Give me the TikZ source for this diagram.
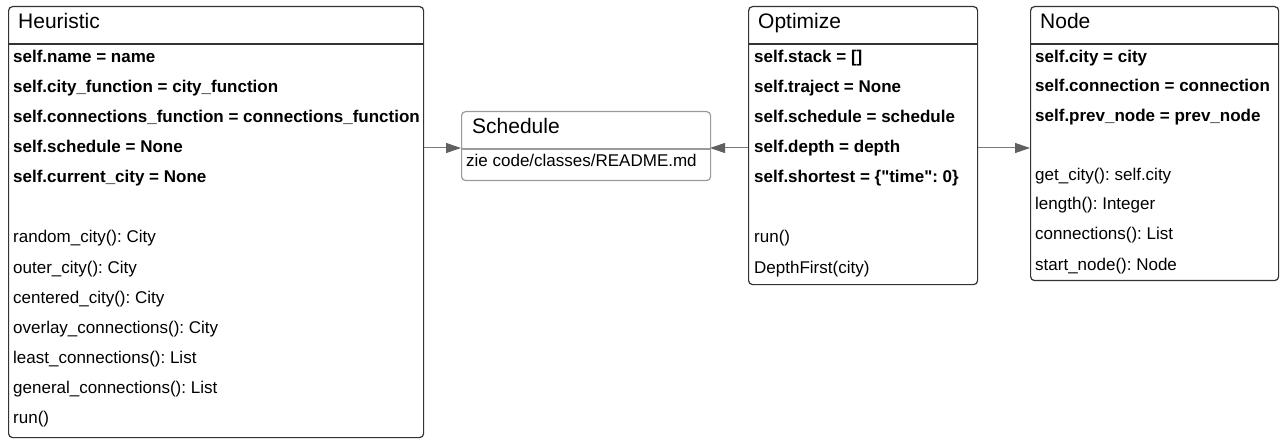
\documentclass[tikz,border=0pt]{standalone}
\usepackage{fontspec}
\setmainfont{Liberation Sans}[Ligatures=TeXOff]
\usetikzlibrary{arrows.meta}
\frenchspacing
\definecolor{boxgray}{HTML}{333333}
\definecolor{lightgray}{HTML}{9A9A9A}
\definecolor{linegray}{HTML}{7A7A7A}
\tikzset{
  classbox/.style={draw=boxgray, line width=1.2pt, rounded corners=4pt, inner sep=0pt, anchor=north west},
  headtext/.style={inner sep=0pt, anchor=base west, font=\fontsize{21}{25}\selectfont},
  attrtext/.style={inner sep=0pt, anchor=base west, font=\fontsize{17}{20}\selectfont\bfseries},
  methtext/.style={inner sep=0pt, anchor=base west, font=\fontsize{17}{20}\selectfont},
  conn/.style={draw=linegray, line width=1pt, -{Triangle[length=15pt,width=10pt,color=gray!75!black]}}
}
\begin{document}
\begin{tikzpicture}[x=1pt,y=-1pt]
\useasboundingbox (0,0) rectangle (1287,446);

% Heuristic
\node[classbox, minimum width=415pt, minimum height=431pt] (heur) at (8,6) {};
\draw[boxgray, line width=1.2pt] (8,44) -- (423,44);
\node[headtext] (heurname) at (18,29) {Heuristic};
\node[attrtext] (h1) at (13,63)  {self.name = name};
\node[attrtext] (h2) at (13,93)  {self.city\_function = city\_function};
\node[attrtext] (h3) at (13,123) {self.connections\_function = connections\_function};
\node[attrtext] (h4) at (13,153) {self.schedule = None};
\node[attrtext] (h5) at (13,183) {self.current\_city = None};
\node[methtext] (h6) at (13,243) {random\_city(): City};
\node[methtext] (h7) at (13,273) {outer\_city(): City};
\node[methtext] (h8) at (13,303) {centered\_city(): City};
\node[methtext] (h9) at (13,333) {overlay\_connections(): City};
\node[methtext] (h10) at (13,363) {least\_connections(): List};
\node[methtext] (h11) at (13,393) {general\_connections(): List};
\node[methtext] (h12) at (13,423) {run()};

% Schedule
\node[classbox, draw=lightgray, minimum width=249pt, minimum height=69pt] (sched) at (461,111) {};
\coordinate (schedin) at (461,148);
\coordinate (schedout) at (710,148);
\draw[lightgray, line width=1.2pt] (461,149) -- (710,149);
\node[headtext] (schedname) at (472,134) {Schedule};
\node[methtext] (s1) at (466,167) {zie code/classes/README.md};

% Optimize
\node[classbox, minimum width=229pt, minimum height=278pt] (opt) at (748,6) {};
\draw[boxgray, line width=1.2pt] (748,44) -- (977,44);
\node[headtext] (optname) at (758,29) {Optimize};
\node[attrtext] (o1) at (754,63)  {self.stack = []};
\node[attrtext] (o2) at (754,93)  {self.traject = None};
\node[attrtext] (o3) at (754,123) {self.schedule = schedule};
\node[attrtext] (o4) at (754,153) {self.depth = depth};
\node[attrtext] (o5) at (754,183) {self.shortest = \{"time": 0\}};
\node[methtext] (o6) at (754,243) {run()};
\node[methtext] (o7) at (754,273) {DepthFirst(city)};

% Node
\node[classbox, minimum width=248pt, minimum height=274pt] (node) at (1030,6) {};
\draw[boxgray, line width=1.2pt] (1030,44) -- (1278,44);
\node[headtext] (nodename) at (1040,29) {Node};
\node[attrtext] (n1) at (1035,63)  {self.city = city};
\node[attrtext] (n2) at (1035,92)  {self.connection = connection};
\node[attrtext] (n3) at (1035,122) {self.prev\_node = prev\_node};
\node[methtext] (n4) at (1035,181) {get\_city(): self.city};
\node[methtext] (n5) at (1035,210) {length(): Integer};
\node[methtext] (n6) at (1035,240) {connections(): List};
\node[methtext] (n7) at (1035,270) {start\_node(): Node};

% connectors
\draw[conn] (heur.east |- schedin) -- (schedin);
\draw[conn] (opt.west |- schedout) -- (schedout);
\draw[conn] (opt.east |- schedout) -- (node.west |- schedout);
\end{tikzpicture}
\end{document}
